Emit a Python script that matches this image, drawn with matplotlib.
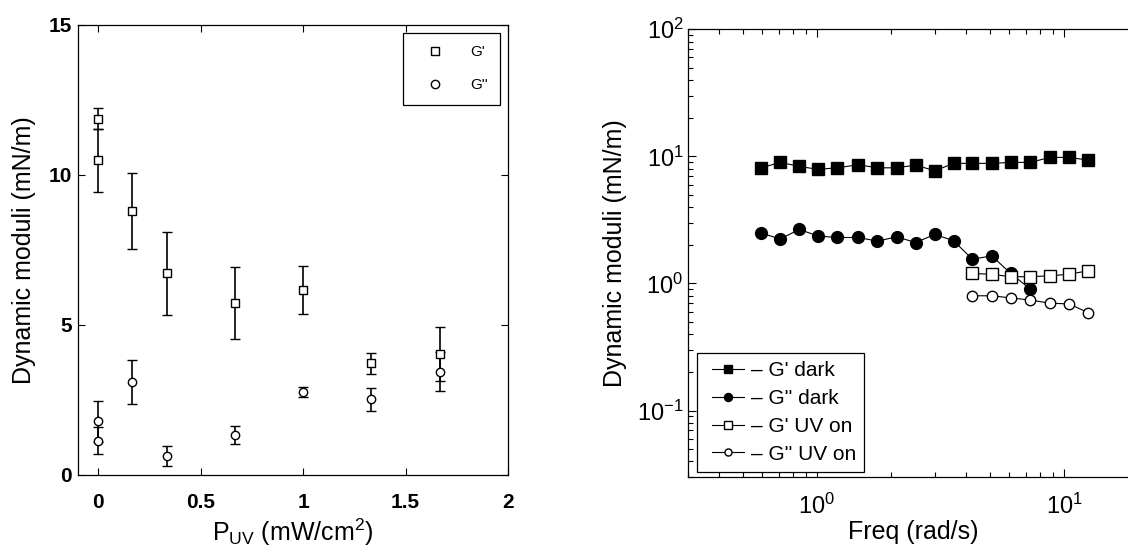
import matplotlib
matplotlib.use("Agg")
import matplotlib.pyplot as plt
from matplotlib.lines import Line2D
from matplotlib.legend_handler import HandlerLine2D

plt.rcParams['font.family'] = ['Liberation Sans', 'DejaVu Sans']
plt.rcParams['mathtext.fontset'] = 'custom'
plt.rcParams['mathtext.rm'] = 'Liberation Sans'
plt.rcParams['mathtext.it'] = 'Liberation Sans:italic'
plt.rcParams['mathtext.default'] = 'regular'

# ---------------- Left panel data ----------------
p_uv = [0.0, 0.0, 0.167, 0.333, 0.667, 1.0, 1.333, 1.667]
g_prime = [11.87, 10.5, 8.81, 6.72, 5.73, 6.17, 3.73, 4.03]
g_prime_err = [0.35, 1.05, 1.27, 1.37, 1.21, 0.81, 0.35, 0.90]
g_dprime = [1.785, 1.14, 3.10, 0.64, 1.33, 2.77, 2.52, 3.45]
g_dprime_err = [0.68, 0.45, 0.72, 0.33, 0.30, 0.16, 0.37, 0.65]
left_xticks = [0, 0.5, 1, 1.5, 2]
left_xticklabels = ['0', '0.5', '1', '1.5', '2']
left_yticks = [0, 5, 10, 15]
left_yticklabels = ['0', '5', '10', '15']

# ---------------- Right panel data ----------------
freq_dark = [0.596, 0.710, 0.848, 1.012, 1.205, 1.471, 1.756, 2.097, 2.503,
             2.998, 3.568, 4.250, 5.088, 6.074, 7.301, 8.742, 10.44, 12.50]
gp_dark = [8.13, 8.97, 8.34, 7.90, 8.13, 8.59, 8.13, 8.13, 8.54,
           7.70, 8.81, 8.81, 8.81, 8.97, 8.97, 9.82, 9.82, 9.35]
freq_dark2 = [0.596, 0.710, 0.848, 1.012, 1.205, 1.471, 1.756, 2.097, 2.503,
              2.998, 3.568, 4.250, 5.088, 6.074, 7.301]
gpp_dark = [2.49, 2.24, 2.66, 2.36, 2.30, 2.30, 2.15, 2.33, 2.10,
            2.43, 2.17, 1.55, 1.65, 1.20, 0.90]
freq_uv = [4.250, 5.088, 6.074, 7.301, 8.742, 10.44, 12.50]
gp_uv = [1.20, 1.18, 1.13, 1.13, 1.15, 1.18, 1.26]
gpp_uv = [0.80, 0.80, 0.77, 0.74, 0.70, 0.69, 0.59]
right_labels = ["\u2013 G' dark", "\u2013 G'' dark", "\u2013 G' UV on", "\u2013 G'' UV on"]


class ShiftedLineHandler(HandlerLine2D):
    """Legend line handle that leaves a small blank gap at its left side."""
    def __init__(self, shift=5.0, **kw):
        super().__init__(**kw)
        self.shift = shift

    def create_artists(self, legend, orig_handle, xdescent, ydescent,
                       width, height, fontsize, trans):
        return super().create_artists(legend, orig_handle, xdescent - self.shift,
                                      ydescent, width - self.shift, height,
                                      fontsize, trans)


W, H = 1128, 549
fig = plt.figure(figsize=(W / 100, H / 100), dpi=100)

# ---------------- Left axes ----------------
l0, r0, t0, b0 = 77.8, 508.0, 25.0, 475.0
ax1 = fig.add_axes([l0 / W, (H - b0) / H, (r0 - l0) / W, (b0 - t0) / H])
ax1.errorbar(p_uv, g_prime, yerr=g_prime_err, fmt='s', ms=6, mfc='white', mec='black',
             mew=1.0, ecolor='black', elinewidth=1.2, capsize=3.5, capthick=1.2, zorder=3)
ax1.errorbar(p_uv, g_dprime, yerr=g_dprime_err, fmt='o', ms=6, mfc='white', mec='black',
             mew=1.0, ecolor='black', elinewidth=1.2, capsize=3.5, capthick=1.2, zorder=3)
ax1.set_xlim(-0.1, 2)
ax1.set_ylim(0, 15)
ax1.set_xticks(left_xticks)
ax1.set_xticklabels(left_xticklabels)
ax1.set_yticks(left_yticks)
ax1.set_yticklabels(left_yticklabels)
ax1.tick_params(direction='in', top=True, right=True, length=5, width=0.8,
                labelsize=15, pad=4)
ax1.tick_params(axis='x', pad=13)
for lbl in ax1.get_xticklabels() + ax1.get_yticklabels():
    lbl.set_fontweight('bold')
for sp in ax1.spines.values():
    sp.set_linewidth(0.9)
ax1.set_ylabel('Dynamic moduli (mN/m)', fontsize=18)
ax1.yaxis.set_label_coords(-0.098, 0.5)
ax1.set_xlabel(r'P$_{\rm UV}$ (mW/cm$^{2}$)', fontsize=18, va='top')
ax1.xaxis.set_label_coords(0.5, -0.092)

h1 = [Line2D([], [], ls='none', marker='s', ms=6, mfc='white', mec='black', mew=1.0),
      Line2D([], [], ls='none', marker='o', ms=6, mfc='white', mec='black', mew=1.0)]
leg1 = ax1.legend(h1, ["G'", "G''"], loc='upper right', fontsize=11, frameon=True,
                  fancybox=False, edgecolor='black', framealpha=1, handlelength=2.6,
                  handletextpad=1.0, labelspacing=1.25, borderpad=0.8,
                  bbox_to_anchor=(1 - 8 / (r0 - l0), 1 - 8 / (b0 - t0)), borderaxespad=0)
leg1.get_frame().set_linewidth(0.9)

# ---------------- Right axes ----------------
l1, t1, b1 = 687.7, 29.3, 477.0
r1 = 1138.7
ax2 = fig.add_axes([l1 / W, (H - b1) / H, (r1 - l1) / W, (b1 - t1) / H])
ax2.set_xscale('log')
ax2.set_yscale('log')
lw = 0.8
ln1, = ax2.plot(freq_dark, gp_dark, '-s', color='black', lw=lw, ms=8.5, mfc='black', mec='black')
ln2, = ax2.plot(freq_dark2, gpp_dark, '-o', color='black', lw=lw, ms=8.5, mfc='black', mec='black')
ln3, = ax2.plot(freq_uv, gp_uv, '-s', color='black', lw=lw, ms=8, mfc='white', mec='black', mew=1.0)
ln4, = ax2.plot(freq_uv, gpp_uv, '-o', color='black', lw=lw, ms=7.5, mfc='white', mec='black', mew=1.0)
ax2.set_xlim(0.3, 20)
ax2.set_ylim(0.03, 100)
ax2.tick_params(which='both', direction='in', top=True, right=True, width=0.8)
ax2.tick_params(which='major', length=6, labelsize=17)
ax2.tick_params(which='minor', length=3.5)
ax2.tick_params(axis='x', which='major', pad=12)
ax2.tick_params(axis='y', which='major', pad=3)
for sp in ax2.spines.values():
    sp.set_linewidth(0.9)
ax2.set_ylabel('Dynamic moduli (mN/m)', fontsize=18)
ax2.yaxis.set_label_coords(-0.135, 0.5)
ax2.set_xlabel('Freq (rad/s)', fontsize=18, va='top')
ax2.xaxis.set_label_coords((913 - l1) / (r1 - l1), -0.097)

handler = ShiftedLineHandler(shift=5.0)
leg2 = ax2.legend([ln1, ln2, ln3, ln4], right_labels, loc='lower left', fontsize=15,
                  frameon=True, fancybox=False, edgecolor='black', framealpha=1,
                  handlelength=1.85, handletextpad=0.35, labelspacing=0.42, borderpad=0.4,
                  markerscale=0.68, bbox_to_anchor=(9 / (r1 - l1), 5 / (b1 - t1)),
                  borderaxespad=0,
                  handler_map={ln1: handler, ln2: handler, ln3: handler, ln4: handler})
leg2.get_frame().set_linewidth(0.9)

fig.savefig('out.png', dpi=100)
